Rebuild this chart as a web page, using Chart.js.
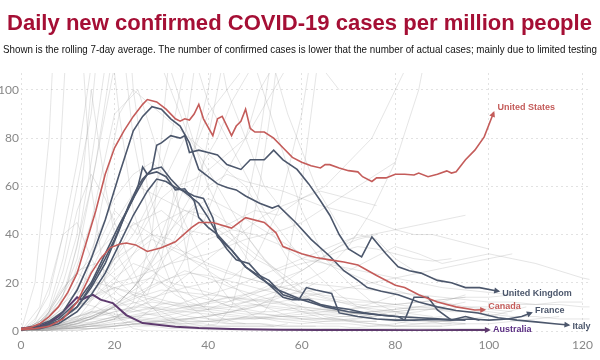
<!DOCTYPE html>
<html>
<head>
<meta charset="utf-8">
<script src="https://cdn.jsdelivr.net/npm/chart.js@4.4.1/dist/chart.umd.min.js"></script>
<style>
body{margin:0;width:600px;height:360px;overflow:hidden;background:#fff;position:relative;}
#title{position:absolute;left:7px;top:10px;font-family:"Liberation Sans",Arial,sans-serif;font-weight:700;font-size:22px;color:#a50f35;white-space:nowrap;transform-origin:0 0;z-index:2;}
#sub{position:absolute;left:3px;top:43px;font-family:"Liberation Sans",Arial,sans-serif;font-size:10.5px;color:#111;white-space:nowrap;transform-origin:0 0;z-index:2;}
#wrap{position:absolute;left:0;top:0;width:600px;height:360px;}
</style>
</head>
<body>
<div id="title">Daily new confirmed COVID-19 cases per million people</div>
<div id="sub">Shown is the rolling 7-day average. The number of confirmed cases is lower that the number of actual cases; mainly due to limited testing</div>
<div id="wrap"><canvas id="covid"></canvas></div>
<script>
/* ============================================================
   DADES (dies des del cas 3 per milió, casos per milió)
============================================================ */

const xTicks=[0,20,40,60,80,100,120];
const yTicks=[0,20,40,60,80,100];

const usDays=[0,2,4,6,8,10,12,14,16,18,20,22,24,26,27,29,31,33,34,35,36,37,38,39,41,42,43,45,46,47,48,49,50,52,54,56,58,60,62,64,65,66,68,70,72,73,75,76,78,80,82,84,85,87,89,91,92,93,95,97,99,101];
const usCases=[1,1.5,3,6,10,16,24,37,50,65,76,83,89,94,96,95,92,88,87,88,87.5,90,94,88,81,88,89,81,85,87,92,84,82.5,82.5,80,76,72,70,68.5,67.6,69,69,67.6,66.5,66,64,62,63.5,63.5,65,65,64.7,65.5,64,65,66.4,65.5,66,71,75,80.5,90.5];

const caDays=[0,3,6,9,12,15,17,19,21,22.5,24.5,27,30,33,36.5,38,41,45,48,52,54.5,56,60,63,66,69,72,76,80,82,85,89,93,97,99];
const caCases=[0.5,1,2,5,12,24,30,34.5,36,36.5,35.7,33,34.5,37,43,45,45,42.7,47,45,40.7,35,32,30.5,29.5,28.6,27.4,23,19,18,15,12,10,8.7,8.8];

const ukDays=[0,4,8,12,15,18,21,24,26,27,28,29,30,32,34,35,36,38,40,42,44,47,49,52,54,56,59,61.5,64,66,68,70,72.8,75,78,80.6,83,85.5,89,92,95,98,102];
const ukCases=[0.5,1.5,5,12,20,32,44,55,62,65,67,77,78,81,80,81,74,75,74,73,69,67,71,71,75,71,67,61,54,48,40,34,30.7,39,32,26.6,25,24,21,20,18,18,16.5];

const itDays=[0,3,6,9,12,15,18,21,24,26,28,30,32,34,36,38,40,42,44,46,48,51,53.7,55,58.7,62,66,69,72,74,77,80.6,85,89,93,97.7,102,106,110,114,117];
const itCases=[1,2,4,8,17,30,46,65,83,89,93,92,88,85,78,67,64,61,59.5,58.5,56,53,51,52,45,38,31,25,21,18,16.5,15,12,10,8.5,7.5,5.5,4.5,3.8,3,2.5];

const frDays=[0,4,8,12,15,18,21,23,25,26,28,30,32,34,36,38,40,42,45,48,50,53,56,59.4,61,63,66.4,68,72,76,80,84,88,92,96,100,104,107,109];
const frCases=[0.5,1.5,4,10,18,28,42,52,60,63,67,68,63,59,56,53,47,40,33.6,26.6,24,21,15,13,18,17,15.6,7.5,6,5,4.5,4.5,4.8,4.5,5,4.5,5,6,7.5];

const deDays=[0,4,8,12,15,18,20,22,24,25,26,27,29,31,33,35,37,38,40,41.6,44,46,48.7,52,56,58,61.5,64,66.4,70,73.5,77,80.6,82,84,87,89,92,95,98];
const deCases=[0.5,1.5,4,10,19,30,38,47,55,60,68,65,66,64,58.5,59,54,47,43,40.6,34,29.5,28,21,14,13,13,11,10,9,7.5,6.5,6,4.5,14,14,8.7,4.5,6,4.5];

const nlDays=[0,4,8,12,15,18,21,24,27,29,31,33,35,37,39,41,42,45,48,51,55,60,65,70,75,80,85,90,95];
const nlCases=[0.5,1,3,8,15,24,36,48,58,63,62,59.5,58,56,55,47,39,33.6,26.6,22,17,13,10,8,7,6,5.5,5,4.5];

const auDays=[0,2,4,6,8,10,12,13,14,15.4,17,19.6,22.5,26,29.6,33,38,45,55,65,75,85,95,100];
const auCases=[1,1.5,2,3.5,6,10,14,13,14,15,13,11.6,6.6,3.3,2.5,1.8,1.2,0.8,0.5,0.4,0.4,0.3,0.4,0.4];

// resta de països (línies grises), un valor cada "pas" dies
const greyStep=[4,3,5,4,3,5,4,3,5,4,3,5,4,3,5,4,3,5,4,3,5,4,3,5,4,3,5,4,3,5,4,3,5,4,3,5,4,3,5,4,3,5,4,3,5,4,3,5,4,5,4,5,4,5,4,5,4,5,4,5,4];
const greyValues=[
[0,3,10,30,70,120,160,170,150,120,95,80,65,50,40,30,22,15,10,8,6,5,4,4,5,6,8,10],
[0,2,6,15,35,70,110,140,130,120,110,95,80,70,60,50,40,32,25,20,16,12,10,8,7,6],
[0,5,20,60,110,140,120,90,60,40,25,15,10,6,4,3,2,2,2,3,3,4,5,6],
[0,2,8,20,38,55,65,70,62,55,50,45,40,30,22,15,10,8,6,5,4,3,3,3],
[0,1,3,6,10,15,22,30,35,45,55,60,62,65,70,75,80,100,110,90,75,60,50,40],
[0,1,2,5,10,20,35,60,100,160,220,300,400,500,550,500,450],
[0,1,1,2,3,5,12,40,120,160,140,100,80,60,50,40,30,35,40,38,30,25,22,20],
[0,3,10,30,60,90,150,180,100,60,40,25,15,10,6,4,3,3,2,2,2,2],
[0,2,8,25,45,60,55,50,45,38,30,25,28,30,25,30,35,32,28,30,32,30,28,25,22,20],
[0,0,1,2,3,5,10,20,35,50,60,65,62,60,58,55,52,50,48,45,42,40,40,38,36,34],
[0,0,1,2,3,5,8,12,18,25,35,45,55,70,80,95,105,115,125,140,150,160,170,180,190,200,210],
[0,1,3,6,10,12,15,18,20,22,30,50,90,150,200,250,280,260,240,220,200],
[0,0,1,3,6,10,18,30,50,70,90,100,110,120,130,140,150,160,170,180],
[0,2,8,25,50,65,55,40,25,12,6,3,2,2,3,10,30,60,100,150,200],
[0,4,15,45,90,100,70,45,25,12,6,4,3,4,5,6,7,8,10,12],
[0,3,6,12,20,30,35,40,38,30,25,20,15,10,7,5,4,4,5,6],
[0,5,15,40,45,30,20,15,12,10,8,5,3,2,2,2,2,2,2,3],
[0,1,3,6,10,15,20,25,22,18,15,12,8,5,4,3,2,2,2],
[0,10,60,200,250,150,80,40,20,10,5,4,6,8,20,60,120],
[0,20,80,200,150,60,20,5,1,0,0,0,0],
[0,0,2,8,20,35,45,50,48,40,32,25,18,14,12,12,11,12,13,14,14,15],
[0,2,5,10,15,18,20,22,18,15,13,12,14,17,20,25,30,33,35,34,32,30,29,30],
[0,0,1,2,3,5,8,12,18,25,30,35,40,45,60,70,80,90,100,110,115],
[0,0,1,2,2,3,4,5,6,8,10,15,20,25,35,50,70,100,150],
[0,0,0,1,1,2,3,4,5,7,9,12,15,18,22,25,30,35,38,40],
[0,0,0,0,0,1,1,1,2,2,3,4,5,6,7,8,10,11,13,15,17,20],
[0,1,1,2,3,4,3,2,1,0.5,0.3,0.3,0.5,1,1,2,3,5,6],
[0,2,8,12,10,6,3,2,1,1,0.5,0.5,0.5,0.7,0.8,1,0.9,0.8],
[0,1,2,4,6,8,9,9,8,9,10,9,10,11,12,10,9,8,8,9,10],
[0,1,3,6,10,14,17,16,15,14,13,12,10,9,8,8,9,10,12,15],
[0,3,12,25,28,22,15,10,8,6,5,5,5,6,7,8,9,8,10,12,15],
[0,2,8,20,40,100,60,30,20,15,30,60,25,15,12,10,12,14,16,18],
[0,2,10,30,40,45,50,42,40,45,50,48,55,60,70,80,100,120,150],
[0,0,2,5,15,30,40,55,80,120,150,170,160,140,130,120,110,100],
[0,0,1,3,10,30,60,90,100,95,90,85,80,75,70,65,60,50,40,30,25],
[0,5,20,30,50,40,60,80,150,200,250,300,280],
[0,1,3,8,15,20,22,25,28,30,32,35,38,40,42,45,50,55,60,65,70],
[0,1,2,3,4,5,5,6,5,4,4,3,3,3,2,2,2,2,2],
[0,0.5,1,2,3,4,6,8,7,6,5,6,7,8,9,10,11,12,13,14],
[0,1,2,3,4,6,8,10,12,11,10,9,8,7,6,5,5,5,4,4],
[0,0.5,1,1.5,2,3,4,5,6,7,7,8,9,10,10,11,12,13,14,15,16,17],
[0,1,4,8,6,5,4,3,4,5,6,5,4,3,3,2,2,3,4,3],
[0,2,5,9,14,18,16,14,12,10,9,8,7,7,6,6,5,5,4,4],
[0,3,9,18,24,20,16,12,9,7,6,5,5,4,4,3,3],
[0,1,3,7,12,18,26,32,38,42,40,36,30,28,26,24,22,20,18,17,16,15],
[0,0,1,2,4,6,9,13,18,24,30,36,42,48,52,55,58,56,54,52],
[0,4,18,40,70,110,140,90,50,30,20,15,12,10,15,30,50,80,120],
[0,0,0,1,2,5,12,30,80,130,110,80,50,30,20,12,8,5,3,3],
[0,1,2,4,7,11,15,19,22,24,23,21,19,17,15,14,13,12,11,10,10,9,9,8,8,8,7],
[0,0.5,1,2,4,6,8,10,12,14,16,18,20,19,18,17,16,15,14,13,12,12,11,11,10,10,10,9],
[0,2,4,6,8,7,6,5,5,4,4,3,3,3,2,2,2,2,1,1,1,1,1,1,1,1],
[0,1,3,5,8,10,9,8,9,10,11,10,9,8,7,8,9,10,9,8,7,6,6,5,5,5,4],
[0,3,6,10,15,22,28,25,20,18,16,14,12,10,9,8,7,6,6,5,5,4,4,4],
[0,0,1,1,2,3,4,5,6,8,10,12,14,16,18,20,22,24,26,28,30,32],
[0,2,3,5,6,8,10,12,11,10,12,14,13,12,11,10,9,8,7,7,6,6,5],
[0,1,2,3,5,7,9,12,15,18,22,26,30,34,38,40,42,44,46,48],
[0,4,10,16,20,18,15,13,11,9,8,7,6,5,5,5,5,6,6,7,8,9],
[0,1,1,2,2,3,3,4,4,5,5,6,6,7,7,8,8,9,9,10,10,11,11,12,12],
[0,3,7,12,18,25,32,38,34,30,27,24,22,20,18,16,15,14,13,12,11,10,10,9],
[0,1,4,9,16,26,38,48,55,50,44,38,32,28,24,20,17,14,12,10,9,8],
[0,2,5,10,18,30,45,40,35,32,28,25,22,20,18,16,14,12,10,9,8,7,6]
];

/* ============================================================
   TÍTOLS (ajust d'amplada com a l'original)
============================================================ */

function ajustaAmplada(id,amplada){
    const el=document.getElementById(id);
    const w=el.getBoundingClientRect().width;
    el.style.transform="scaleX("+(amplada/w)+")";
}

ajustaAmplada("title",585);
ajustaAmplada("sub",594);

/* ============================================================
   GRÀFIC
============================================================ */

function punts(dies,valors){
    return dies.map((d,i)=>({x:d,y:valors[i]}));
}

const colorFosc="#4c576c";
const colorVermell="#c45c5a";

function destacat(nom,dies,valors,color,extra){
    return Object.assign({
        label:nom,
        data:punts(dies,valors),
        borderColor:color,
        borderWidth:1.6,
        pointRadius:0,
        tension:0,
        order:1
    },extra||{});
}

const datasets=[
    destacat("United States",usDays,usCases,colorVermell,{endLabel:"United States",labelDx:4,labelDy:-5,order:0}),
    destacat("Canada",caDays,caCases,colorVermell,{endLabel:"Canada",labelDx:4,labelDy:-3}),
    destacat("United Kingdom",ukDays,ukCases,colorFosc,{endLabel:"United Kingdom",labelDx:4,labelDy:2}),
    destacat("Italy",itDays,itCases,colorFosc,{endLabel:"Italy",labelDx:4,labelDy:2}),
    destacat("France",frDays,frCases,colorFosc,{endLabel:"France",labelDx:4,labelDy:-2}),
    destacat("Germany",deDays,deCases,colorFosc),
    destacat("Netherlands",nlDays,nlCases,colorFosc),
    destacat("Australia",auDays,auCases,"#5e3a6e",{endLabel:"Australia",labelDx:4,labelDy:-1,labelColor:"#5a2d82",borderWidth:2})
];

greyValues.forEach((valors,k)=>{
    datasets.push({
        label:"",
        data:valors.map((v,i)=>({x:i*greyStep[k],y:v})),
        borderColor:"rgba(160,160,160,0.28)",
        borderWidth:1,
        pointRadius:0,
        tension:0,
        order:2
    });
});

const etiquetesFinals={
    id:"etiquetesFinals",
    afterDatasetsDraw(chart){
        const ctx=chart.ctx;
        chart.data.datasets.forEach((ds,i)=>{
            if(!ds.endLabel) return;
            const pts=chart.getDatasetMeta(i).data;
            const a=pts[pts.length-1], b=pts[pts.length-2];
            const ang=Math.atan2(a.y-b.y,a.x-b.x);
            ctx.save();
            ctx.translate(a.x,a.y);
            ctx.rotate(ang);
            ctx.beginPath();
            ctx.moveTo(2,0);
            ctx.lineTo(-4,-3);
            ctx.lineTo(-4,3);
            ctx.closePath();
            ctx.fillStyle=ds.borderColor;
            ctx.fill();
            ctx.restore();
            ctx.save();
            ctx.font='bold 9px "Liberation Sans", Arial, sans-serif';
            ctx.fillStyle=ds.labelColor||ds.borderColor;
            ctx.textBaseline="middle";
            ctx.fillText(ds.endLabel,a.x+ds.labelDx,a.y+ds.labelDy);
            ctx.restore();
        });
    }
};

new Chart(document.getElementById("covid"),{
    type:"line",
    data:{datasets:datasets},
    options:{
        responsive:true,
        maintainAspectRatio:false,
        animation:false,
        layout:{padding:{top:73,right:8,bottom:0,left:0}},
        plugins:{
            legend:{display:false},
            tooltip:{enabled:false}
        },
        scales:{
            x:{
                type:"linear",
                min:0,
                max:121.5,
                afterBuildTicks:(s)=>{s.ticks=xTicks.map(v=>({value:v}));},
                afterFit:(s)=>{s.height=29;},
                ticks:{color:"#888",font:{family:"Lato",size:12},padding:7,maxRotation:0},
                grid:{color:"#e2e2e2",drawTicks:false},
                border:{display:false,dash:[2,3]}
            },
            y:{
                min:0,
                max:107,
                afterBuildTicks:(s)=>{s.ticks=yTicks.map(v=>({value:v}));},
                afterFit:(s)=>{s.width=21;},
                ticks:{color:"#888",font:{family:"Lato",size:12},padding:2},
                grid:{color:"#e2e2e2",drawTicks:false},
                border:{display:false,dash:[2,3]}
            }
        }
    },
    plugins:[etiquetesFinals]
});
</script>
</body>
</html>
